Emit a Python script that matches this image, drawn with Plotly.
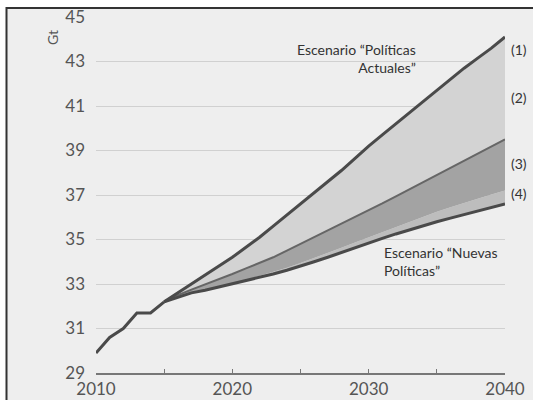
import plotly.graph_objects as go

# ---- data ----
hist_years = [2010, 2011, 2012, 2013, 2014, 2015]
hist_vals = [29.9, 30.6, 31.0, 31.7, 31.7, 32.2]

proj_years = list(range(2015, 2041))
# (1) Escenario "Políticas Actuales"
current_policies = [32.2, 32.6, 33.0, 33.4, 33.8, 34.2, 34.65, 35.1, 35.6, 36.1, 36.6,
                    37.1, 37.6, 38.1, 38.65, 39.2, 39.7, 40.2, 40.7, 41.2, 41.7,
                    42.2, 42.7, 43.15, 43.6, 44.1]
# boundary between (2) and (3)
boundary_3 = [32.2, 32.5, 32.75, 32.98, 33.2, 33.45, 33.7, 33.95, 34.2, 34.5, 34.8,
              35.1, 35.4, 35.7, 36.0, 36.3, 36.62, 36.94, 37.26, 37.58, 37.9,
              38.22, 38.54, 38.86, 39.18, 39.5]
# boundary between (3) and (4)
boundary_4 = [32.2, 32.4, 32.6, 32.72, 32.86, 33.0, 33.18, 33.36, 33.54, 33.73, 33.94,
              34.16, 34.39, 34.63, 34.87, 35.1, 35.34, 35.57, 35.8, 36.03, 36.25,
              36.45, 36.65, 36.84, 37.02, 37.2]
# Escenario "Nuevas Políticas"
new_policies = [32.2, 32.4, 32.6, 32.72, 32.86, 33.0, 33.15, 33.3, 33.45, 33.62, 33.8,
                34.0, 34.2, 34.42, 34.64, 34.85, 35.05, 35.25, 35.44, 35.62, 35.8,
                35.96, 36.12, 36.29, 36.45, 36.6]

x_tickvals = [2010, 2015, 2020, 2025, 2030, 2035, 2040]
x_ticktext = ["2010", "", "2020", "", "2030", "", "2040"]
y_tickvals = [29, 31, 33, 35, 37, 39, 41, 43, 45]
y_ticktext = ["29", "31", "33", "35", "37", "39", "41", "43", "45"]

# ---- layout geometry (pixels) ----
W, H = 533, 400
L, R, T, B = 96, 28, 17, 27
PW, PH = W - L - R, H - T - B


def px(xp):
    return (xp - L) / PW


def py(yp):
    return (H - B - yp) / PH


FONT = "Lato, 'Open Sans', sans-serif"
LINE = "#4a4a4a"

fig = go.Figure()

fig.add_trace(go.Scatter(x=proj_years, y=new_policies, mode="lines",
                         line=dict(color=LINE, width=0), showlegend=False, hoverinfo="skip"))
fig.add_trace(go.Scatter(x=proj_years, y=boundary_4, mode="lines", fill="tonexty",
                         fillcolor="#bdbdbd", line=dict(width=0), showlegend=False))
fig.add_trace(go.Scatter(x=proj_years, y=boundary_3, mode="lines", fill="tonexty",
                         fillcolor="#a3a3a3", line=dict(width=0), showlegend=False))
fig.add_trace(go.Scatter(x=proj_years, y=current_policies, mode="lines", fill="tonexty",
                         fillcolor="#d3d3d3", line=dict(width=0), showlegend=False))

fig.add_trace(go.Scatter(x=proj_years, y=boundary_3, mode="lines",
                         line=dict(color="#666666", width=2), showlegend=False))
fig.add_trace(go.Scatter(x=proj_years, y=new_policies, mode="lines",
                         line=dict(color=LINE, width=3), showlegend=False))
fig.add_trace(go.Scatter(x=proj_years, y=current_policies, mode="lines",
                         line=dict(color=LINE, width=3), showlegend=False))
fig.add_trace(go.Scatter(x=hist_years, y=hist_vals, mode="lines",
                         line=dict(color=LINE, width=3), showlegend=False))

# frame of the figure
fig.add_shape(type="rect", xref="paper", yref="paper",
              x0=px(6.5), x1=px(600), y0=py(460), y1=py(8),
              fillcolor="#eeeeee", line=dict(color="#333333", width=2), layer="below")

ann_font = dict(family=FONT, size=14, color="#333333")
annotations = [
    dict(text="Escenario \u201cPolíticas<br>Actuales\u201d", x=px(418), y=py(58),
         xanchor="right", yanchor="middle", align="right"),
    dict(text="Escenario \u201cNuevas<br>Políticas\u201d", x=px(382), y=py(261),
         xanchor="left", yanchor="middle", align="left"),
    dict(text="(1)", x=px(509), y=py(50), xanchor="left", yanchor="middle"),
    dict(text="(2)", x=px(509), y=py(98), xanchor="left", yanchor="middle"),
    dict(text="(3)", x=px(509), y=py(163), xanchor="left", yanchor="middle"),
    dict(text="(4)", x=px(509), y=py(193), xanchor="left", yanchor="middle"),
]
for a in annotations:
    fig.add_annotation(xref="paper", yref="paper", showarrow=False, font=ann_font, **a)

fig.add_annotation(text="Gt", xref="paper", yref="paper", x=px(42), y=py(28),
                   showarrow=False, textangle=-90,
                   font=dict(family=FONT, size=14, color="#555555"))

fig.update_layout(
    width=W, height=H,
    margin=dict(l=L, r=R, t=T, b=B, pad=0, autoexpand=False),
    paper_bgcolor="white",
    plot_bgcolor="rgba(0,0,0,0)",
    showlegend=False,
    xaxis=dict(range=[2010, 2040], tickvals=x_tickvals, ticktext=x_ticktext,
               showgrid=False, zeroline=False, showline=True, linecolor="#777777",
               linewidth=2, ticks="inside", ticklen=4, tickcolor="#777777",
               tickfont=dict(family=FONT, size=17, color="#555555"),
               ticklabelstandoff=0, automargin=False),
    yaxis=dict(range=[29, 45], tickvals=y_tickvals, ticktext=y_ticktext,
               showgrid=True, gridcolor="#d0d0d0", gridwidth=1, zeroline=False,
               showline=False, ticks="",
               tickfont=dict(family=FONT, size=17, color="#555555"),
               ticklabelstandoff=10, automargin=False),
)

fig.write_html("out.html", config={"displayModeBar": False},
               post_script="document.body.style.margin='0';document.body.style.overflow='hidden';")
